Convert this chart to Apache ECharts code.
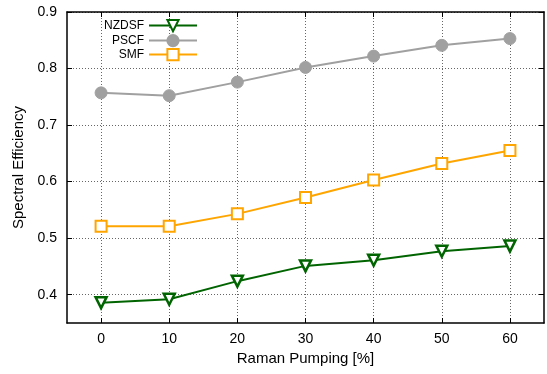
<!DOCTYPE html>
<html>
<head>
<meta charset="utf-8">
<script src="https://cdn.jsdelivr.net/npm/echarts@6/dist/echarts.min.js"></script>
<style>
  html, body { margin: 0; padding: 0; background: #fff; }
  #chart { width: 547px; height: 374px; }
</style>
</head>
<body>
<div id="chart"></div>
<script>
var pumping = [0, 10, 20, 30, 40, 50, 60];
var nzdsf = [0.386, 0.392, 0.424, 0.451, 0.461, 0.477, 0.486];
var pscf = [0.757, 0.752, 0.776, 0.802, 0.822, 0.841, 0.853];
var smf = [0.521, 0.521, 0.543, 0.572, 0.603, 0.632, 0.655];
var yTicks = [0.4, 0.5, 0.6, 0.7, 0.8, 0.9];

function pairs(vals) {
    return pumping.map(function(x, i) { return [x, vals[i]]; });
}

var font = 'Liberation Sans, Arial, sans-serif';
var chart = echarts.init(document.getElementById('chart'));

function legendFor(name, top) {
    return {
        data: [name],
        align: 'right',
        right: 349,
        top: top,
        padding: 0,
        itemWidth: 48,
        itemHeight: 14,
        selectedMode: false,
        textStyle: { fontFamily: font, fontSize: 12, color: '#000' }
    };
}

var gridLine = {
    show: true,
    lineStyle: { color: '#666', type: [1, 2], width: 1 }
};

option = {
    animation: false,
    grid: { left: 67, right: 3, top: 12, bottom: 51 },
    legend: [
        legendFor('NZDSF', 19),
        legendFor('PSCF', 34),
        legendFor('SMF', 48)
    ],
    xAxis: [{
        type: 'value',
        min: -5,
        max: 65,
        name: 'Raman Pumping [%]',
        nameLocation: 'middle',
        nameGap: 28,
        nameTextStyle: { fontFamily: font, fontSize: 15, color: '#000' },
        axisLine: { show: true, onZero: false, lineStyle: { color: '#000', width: 1.5 } },
        axisTick: { show: true, inside: true, length: 5, customValues: pumping, lineStyle: { color: '#000' } },
        axisLabel: { customValues: pumping, margin: 9, fontFamily: font, fontSize: 14, color: '#000' },
        splitLine: gridLine
    }, {
        type: 'value',
        position: 'top',
        min: -5,
        max: 65,
        axisLine: { show: true, onZero: false, lineStyle: { color: '#000', width: 1.5 } },
        axisTick: { show: true, inside: true, length: 5, customValues: pumping, lineStyle: { color: '#000' } },
        axisLabel: { show: false },
        splitLine: { show: false }
    }],
    yAxis: [{
        type: 'value',
        min: 0.35,
        max: 0.9,
        name: 'Spectral Efficiency',
        nameLocation: 'middle',
        nameGap: 38,
        nameTextStyle: { fontFamily: font, fontSize: 15, color: '#000' },
        axisLine: { show: true, onZero: false, lineStyle: { color: '#000', width: 1.5 } },
        axisTick: { show: true, inside: true, length: 5, customValues: yTicks, lineStyle: { color: '#000' } },
        axisLabel: {
            customValues: yTicks, margin: 10, fontFamily: font, fontSize: 14, color: '#000',
            formatter: function(v) { return v.toFixed(1); }
        },
        splitLine: gridLine
    }, {
        type: 'value',
        position: 'right',
        min: 0.35,
        max: 0.9,
        axisLine: { show: true, onZero: false, lineStyle: { color: '#000', width: 1.5 } },
        axisTick: { show: true, inside: true, length: 5, customValues: yTicks, lineStyle: { color: '#000' } },
        axisLabel: { show: false },
        splitLine: { show: false }
    }],
    series: [{
        name: 'NZDSF',
        type: 'line',
        data: pairs(nzdsf),
        symbol: 'triangle',
        symbolRotate: 180,
        symbolSize: 11,
        lineStyle: { color: '#006400', width: 2 },
        itemStyle: { color: '#ffffff', borderColor: '#006400', borderWidth: 2.5 },
        z: 4
    }, {
        name: 'PSCF',
        type: 'line',
        data: pairs(pscf),
        symbol: 'circle',
        symbolSize: 12,
        lineStyle: { color: '#a0a0a0', width: 2 },
        itemStyle: { color: '#a0a0a0', borderColor: '#a0a0a0', borderWidth: 1 },
        z: 3
    }, {
        name: 'SMF',
        type: 'line',
        data: pairs(smf),
        symbol: 'rect',
        symbolSize: 11,
        lineStyle: { color: '#ffa500', width: 2 },
        itemStyle: { color: '#ffffff', borderColor: '#ffa500', borderWidth: 2 },
        z: 5
    }]
};

chart.setOption(option);
</script>
</body>
</html>
